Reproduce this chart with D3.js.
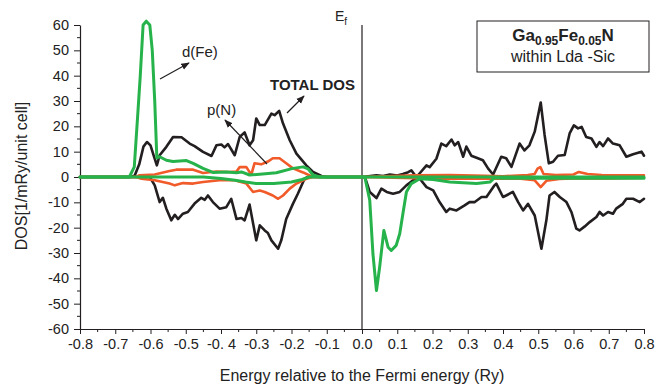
<!DOCTYPE html>
<html>
<head>
<meta charset="utf-8">
<script src="https://cdn.jsdelivr.net/npm/d3@7"></script>
<style>
  html, body { margin: 0; padding: 0; background: #fff; }
  svg { display: block; font-family: "Liberation Sans", Arial, sans-serif; }
</style>
</head>
<body>
<svg id="chart" width="663" height="388"></svg>
<script>
// ---- data (Energy in Ry, DOS in 1/mRy/unit cell) ----
const xTickValues = [-0.8,-0.7,-0.6,-0.5,-0.4,-0.3,-0.2,-0.1,0.0,0.1,0.2,0.3,0.4,0.5,0.6,0.7,0.8];
const xTickLabels = ["-0.8","-0.7","-0.6","-0.5","-0. 4","-0.3","-0.2","-0.1","0.0","0.1","0.2","0.3","0.4","0.5","0.6","0.7","0.8"];
const yTickValues = [60,50,40,30,20,10,0,-10,-20,-30,-40,-50,-60];
const yTickLabels = ["60","50","40","30","20","10","0","-10","-20","-30","-40","-50","-60"];

const totalUp = [[-0.80,0],[-0.66,0],[-0.645,0.5],[-0.632,5],[-0.62,12],[-0.61,13.8],[-0.60,12.5],[-0.59,8],[-0.582,4.6],[-0.574,8.6],[-0.555,11.9],[-0.536,15.8],[-0.512,15.7],[-0.489,13.2],[-0.475,12.2],[-0.451,9.9],[-0.427,8.3],[-0.413,12.5],[-0.399,12.8],[-0.390,11.7],[-0.380,13.0],[-0.361,8.6],[-0.347,15.8],[-0.333,17.6],[-0.319,12.5],[-0.309,14.5],[-0.300,23.1],[-0.290,20.5],[-0.276,20.5],[-0.257,25.0],[-0.248,24.4],[-0.235,26.1],[-0.224,21.1],[-0.205,14.5],[-0.186,9.2],[-0.158,4.6],[-0.139,2.0],[-0.115,0.4],[-0.10,0],[0.0,0],[0.041,0.7],[0.06,0.4],[0.079,1.0],[0.10,0.6],[0.116,1.2],[0.131,1.9],[0.140,2.6],[0.150,0.8],[0.159,0.7],[0.183,4.6],[0.192,3.9],[0.211,7.2],[0.225,13.2],[0.239,12.2],[0.254,14.8],[0.263,12.5],[0.273,13.8],[0.287,8.0],[0.296,12.0],[0.310,8.4],[0.325,7.6],[0.343,6.6],[0.358,3.3],[0.372,1.0],[0.395,8.0],[0.409,7.4],[0.424,4.0],[0.447,13.2],[0.461,10.5],[0.475,12.5],[0.490,17.9],[0.507,29.4],[0.518,16.6],[0.530,5.4],[0.542,6.0],[0.556,8.4],[0.575,8.7],[0.589,17.2],[0.601,20.4],[0.613,19.2],[0.623,19.8],[0.636,15.8],[0.651,15.2],[0.665,11.9],[0.674,13.8],[0.684,12.2],[0.698,15.2],[0.712,13.2],[0.731,12.5],[0.750,8.0],[0.769,9.0],[0.793,10.0],[0.80,8.4]];

const totalDown = [[-0.80,0],[-0.602,0],[-0.588,-3.3],[-0.574,-9.9],[-0.565,-8.2],[-0.555,-12.5],[-0.541,-17.1],[-0.531,-14.9],[-0.522,-16.6],[-0.508,-14.5],[-0.494,-13.8],[-0.475,-10.5],[-0.456,-8.2],[-0.446,-9.0],[-0.437,-7.3],[-0.423,-9.9],[-0.404,-12.5],[-0.385,-11.9],[-0.371,-8.6],[-0.356,-16.6],[-0.342,-16.2],[-0.333,-17.1],[-0.319,-10.9],[-0.300,-25.0],[-0.290,-19.1],[-0.276,-21.1],[-0.267,-22.1],[-0.257,-25.0],[-0.238,-28.3],[-0.229,-25.0],[-0.215,-16.6],[-0.196,-10.6],[-0.182,-6.6],[-0.163,-0.7],[-0.155,0],[0.0,0],[0.008,0],[0.022,-5.9],[0.041,-8.3],[0.055,-4.6],[0.070,-5.9],[0.088,-6.6],[0.107,-5.9],[0.126,-3.3],[0.145,-1.3],[0.164,-0.7],[0.183,-4.0],[0.202,-5.3],[0.220,-9.9],[0.239,-13.8],[0.249,-12.5],[0.268,-13.2],[0.291,-11.2],[0.305,-9.9],[0.320,-9.9],[0.339,-7.9],[0.353,-7.9],[0.376,-3.3],[0.381,-2.6],[0.400,-7.9],[0.409,-7.3],[0.428,-5.9],[0.443,-9.9],[0.457,-13.2],[0.471,-10.6],[0.490,-15.2],[0.509,-28.3],[0.523,-17.1],[0.532,-7.3],[0.546,-5.9],[0.561,-7.9],[0.580,-9.9],[0.594,-13.8],[0.608,-20.4],[0.617,-21.1],[0.632,-19.5],[0.646,-17.8],[0.665,-15.8],[0.674,-13.8],[0.684,-15.2],[0.698,-13.8],[0.712,-14.5],[0.721,-12.5],[0.740,-10.6],[0.750,-8.6],[0.769,-8.6],[0.788,-9.9],[0.80,-8.6]];

const dFeUp = [[-0.80,0],[-0.66,0],[-0.646,4],[-0.636,25],[-0.629,40],[-0.621,60],[-0.612,61.5],[-0.602,60],[-0.595,50],[-0.588,30],[-0.582,7.5],[-0.574,8.0],[-0.555,6.6],[-0.536,6.1],[-0.498,6.5],[-0.479,5.4],[-0.451,3.4],[-0.423,1.8],[-0.385,2.0],[-0.356,1.7],[-0.342,2.0],[-0.319,0.8],[-0.290,1.1],[-0.243,1.7],[-0.196,3.4],[-0.167,4.0],[-0.153,3.2],[-0.139,0.8],[-0.12,0],[0.0,0],[0.80,0]];

const dFeDown = [[-0.80,0],[-0.45,0],[-0.40,-0.6],[-0.36,-1.3],[-0.33,-2.0],[-0.30,-2.6],[-0.25,-2.6],[-0.20,-2.0],[-0.17,-1.0],[-0.15,0],[0.0,0],[0.008,0],[0.022,-9.2],[0.031,-30.3],[0.041,-44.8],[0.050,-35.6],[0.062,-21.1],[0.074,-27.7],[0.083,-29.0],[0.097,-27.0],[0.107,-22.4],[0.116,-14.5],[0.126,-5.9],[0.140,-2.6],[0.164,-0.7],[0.202,-1.0],[0.249,-2.0],[0.325,-2.6],[0.363,-2.0],[0.376,-0.3],[0.40,-0.5],[0.80,-0.5]];

const pNUp = [[-0.80,0],[-0.64,0],[-0.631,0.7],[-0.588,1.0],[-0.546,2.4],[-0.527,2.9],[-0.479,2.9],[-0.451,1.6],[-0.413,2.2],[-0.375,2.0],[-0.356,2.2],[-0.347,3.9],[-0.328,3.9],[-0.314,0.9],[-0.305,5.4],[-0.286,5.0],[-0.267,6.1],[-0.253,7.4],[-0.234,7.4],[-0.215,5.4],[-0.196,3.4],[-0.167,1.8],[-0.144,0.3],[-0.13,0],[0.0,0],[0.15,0.7],[0.25,0.8],[0.35,0.5],[0.40,0.3],[0.47,0.8],[0.49,1.2],[0.498,3.3],[0.506,3.9],[0.515,1.2],[0.55,0.8],[0.60,1.0],[0.615,2.0],[0.64,1.2],[0.68,0.8],[0.80,0.7]];

const pNDown = [[-0.80,0],[-0.64,0],[-0.626,-0.7],[-0.588,-1.3],[-0.546,-2.6],[-0.531,-3.3],[-0.508,-2.4],[-0.479,-2.6],[-0.451,-2.0],[-0.404,-1.3],[-0.361,-1.3],[-0.328,-2.6],[-0.309,-5.9],[-0.290,-5.3],[-0.276,-5.9],[-0.253,-7.3],[-0.238,-8.6],[-0.224,-7.3],[-0.205,-4.6],[-0.186,-2.6],[-0.158,-0.7],[-0.14,0],[0.0,0],[0.15,-0.5],[0.20,-0.7],[0.30,-0.7],[0.45,-0.7],[0.49,-1.3],[0.507,-4.0],[0.523,-1.5],[0.56,-0.8],[0.60,-0.6],[0.70,-0.6],[0.80,-0.3]];

// ---- layout ----
const svg = d3.select("#chart");
const x = d3.scaleLinear().domain([-0.8, 0.8]).range([80, 644]);
const y = d3.scaleLinear().domain([-60, 60]).range([329, 25]);

const BLACK = "#231f20", GREEN = "#27b34b", ORANGE = "#f15a29";

// axes
const xMinor = d3.range(-16, 17).map(i => i * 0.05).filter(v => Math.abs(Math.round(v*10) - v*10) > 0.01);
const yMinor = d3.range(-12, 13).map(i => i * 5).filter(v => v % 10 !== 0);

const xAxis = d3.axisBottom(x).tickValues(xTickValues)
  .tickFormat((d, i) => xTickLabels[i]).tickSizeInner(5).tickSizeOuter(0).tickPadding(5);
const gx = svg.append("g").attr("transform", `translate(0,${y(-60)})`).call(xAxis);
gx.selectAll(".tick text").attr("font-size", 14.5).attr("fill", "#222")
  .attr("font-family", "Liberation Sans, Arial, sans-serif");
gx.selectAll("g.minor").data(xMinor).enter().append("line")
  .attr("x1", d => x(d)).attr("x2", d => x(d)).attr("y1", 0).attr("y2", 3)
  .attr("stroke", BLACK);

const yAxis = d3.axisLeft(y).tickValues(yTickValues)
  .tickFormat((d, i) => yTickLabels[i]).tickSizeInner(6).tickSizeOuter(0).tickPadding(5);
const gy = svg.append("g").attr("transform", `translate(${x(-0.8)},0)`).call(yAxis);
gy.selectAll(".tick text").attr("font-size", 14.5).attr("fill", "#222")
  .attr("font-family", "Liberation Sans, Arial, sans-serif");
gy.selectAll("g.minor").data(yMinor).enter().append("line")
  .attr("y1", d => y(d)).attr("y2", d => y(d)).attr("x1", 0).attr("x2", -3)
  .attr("stroke", BLACK);

[gx, gy].forEach(g => {
  g.select(".domain").attr("stroke", BLACK).attr("stroke-width", 1.2);
  g.selectAll(".tick line").attr("stroke", BLACK);
});

// Fermi level line
svg.append("line")
  .attr("x1", x(0)).attr("x2", x(0)).attr("y1", y(60)).attr("y2", y(-60))
  .attr("stroke", BLACK).attr("stroke-width", 1.2);

// curves
const line = d3.line().x(d => x(d[0])).y(d => y(d[1]));
const series = [
  {data: totalUp, color: BLACK, w: 2.6}, {data: totalDown, color: BLACK, w: 2.6},
  {data: pNUp, color: ORANGE, w: 2.6}, {data: pNDown, color: ORANGE, w: 2.6},
  {data: dFeDown, color: GREEN, w: 3}, {data: dFeUp, color: GREEN, w: 3}
];
svg.append("g").selectAll("path").data(series).enter().append("path")
  .attr("d", s => line(s.data))
  .attr("fill", "none").attr("stroke", s => s.color)
  .attr("stroke-width", s => s.w).attr("stroke-linejoin", "round").attr("stroke-linecap", "round");

// axis titles
svg.append("text").attr("x", 362).attr("y", 381).attr("text-anchor", "middle")
  .attr("font-size", 16).attr("fill", "#222").text("Energy relative to the Fermi energy (Ry)");
svg.append("text").attr("transform", "translate(27,176) rotate(-90)").attr("text-anchor", "middle")
  .attr("font-size", 16).attr("fill", "#222").text("DOS[1/mRy/unit cell]");

// E_f label
const ef = svg.append("text").attr("x", 335).attr("y", 21).attr("font-size", 14).attr("fill", "#222");
ef.append("tspan").text("E");
ef.append("tspan").attr("dy", 4).attr("font-size", 10).text("f");

// legend box
svg.append("rect").attr("x", 477).attr("y", 21).attr("width", 172).attr("height", 51)
  .attr("fill", "#fff").attr("stroke", BLACK).attr("stroke-width", 1);
const t1 = svg.append("text").attr("x", 563).attr("y", 41).attr("text-anchor", "middle")
  .attr("font-size", 17).attr("font-weight", "bold").attr("fill", "#222");
t1.append("tspan").text("Ga");
t1.append("tspan").attr("dy", 4).attr("font-size", 12).text("0.95");
t1.append("tspan").attr("dy", -4).text("Fe");
t1.append("tspan").attr("dy", 4).attr("font-size", 12).text("0.05");
t1.append("tspan").attr("dy", -4).text("N");
svg.append("text").attr("x", 563).attr("y", 62).attr("text-anchor", "middle")
  .attr("font-size", 16).attr("fill", "#222").text("within Lda -Sic");

// annotations with arrows
const defs = svg.append("defs");
defs.append("marker").attr("id", "arr").attr("viewBox", "0 0 10 10").attr("refX", 9).attr("refY", 5)
  .attr("markerWidth", 7).attr("markerHeight", 7).attr("orient", "auto")
  .append("path").attr("d", "M0,1 L10,5 L0,9 Z").attr("fill", BLACK);

const notes = [
  {label: "d(Fe)", tx: 182, ty: 57, bold: false, from: [160, 79], to: [189, 63]},
  {label: "p(N)", tx: 207, ty: 115, bold: false, from: [267, 164], to: [225, 120]},
  {label: "TOTAL DOS", tx: 270, ty: 90, bold: true, from: [287, 113], to: [304, 96]}
];
notes.forEach(n => {
  svg.append("text").attr("x", n.tx).attr("y", n.ty).attr("font-size", 15)
    .attr("font-weight", n.bold ? "bold" : "normal").attr("fill", "#222").text(n.label);
  svg.append("line").attr("x1", n.from[0]).attr("y1", n.from[1]).attr("x2", n.to[0]).attr("y2", n.to[1])
    .attr("stroke", BLACK).attr("stroke-width", 1.2).attr("marker-end", "url(#arr)");
});
</script>
</body>
</html>
